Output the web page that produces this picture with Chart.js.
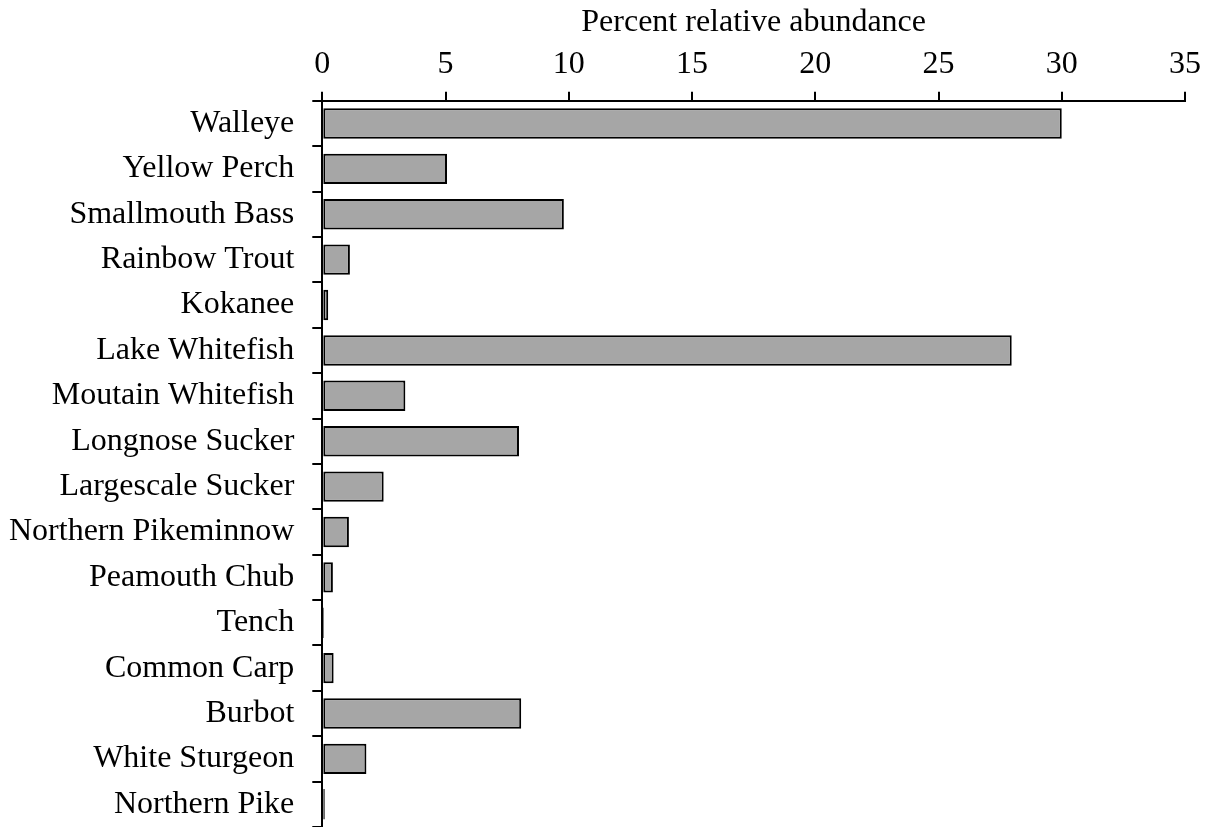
<!DOCTYPE html>
<html>
<head>
<meta charset="utf-8">
<script src="https://cdn.jsdelivr.net/npm/chart.js@4/dist/chart.umd.min.js"></script>
<style>
  html, body { margin: 0; padding: 0; background: #fff; }
  #wrap { width: 1212px; height: 827px; position: relative; }
</style>
</head>
<body>
<div id="wrap"><canvas id="chart"></canvas></div>
<script>
"use strict";

const species = [
  "Walleye", "Yellow Perch", "Smallmouth Bass", "Rainbow Trout", "Kokanee",
  "Lake Whitefish", "Moutain Whitefish", "Longnose Sucker", "Largescale Sucker",
  "Northern Pikeminnow", "Peamouth Chub", "Tench", "Common Carp", "Burbot",
  "White Sturgeon", "Northern Pike"
];
const abundance = [
  30.0, 5.06, 9.8, 1.12, 0.24,
  27.97, 3.37, 7.98, 2.49,
  1.08, 0.43, 0.07, 0.46, 8.07,
  1.79, 0.1
];
const xTicks = [0, 5, 10, 15, 20, 25, 30, 35];
const xTitle = "Percent relative abundance";

const font = { family: "'Liberation Serif', 'Times New Roman', serif", size: 32 };

// chart.js reserves the tick padding twice (both sides of the labels); take one back
const trimPadding = (axis) => {
  const pad = axis.options.ticks.padding;
  if (axis.isHorizontal()) {
    axis.height -= pad;
    axis.paddingLeft = 0;
    axis.paddingRight = 0;
  } else {
    axis.width -= pad;
    axis.paddingTop = 0;
    axis.paddingBottom = 0;
  }
};

new Chart(document.getElementById("chart"), {
  type: "bar",
  data: {
    labels: species,
    datasets: [{
      data: abundance,
      backgroundColor: "#a6a6a6",
      borderColor: "#000000",
      borderWidth: 2,
      borderSkipped: false,
      barPercentage: 0.67,
      categoryPercentage: 1
    }]
  },
  options: {
    indexAxis: "y",
    responsive: true,
    maintainAspectRatio: false,
    animation: false,
    layout: { padding: { top: 0, right: 27, bottom: 0, left: 9 } },
    plugins: { legend: { display: false }, tooltip: { enabled: false } },
    scales: {
      x: {
        position: "top",
        min: 0,
        max: 35,
        afterBuildTicks: (axis) => { axis.ticks = xTicks.map((v) => ({ value: v })); },
        afterFit: trimPadding,
        grid: { drawOnChartArea: false, tickLength: 9, color: "#000", lineWidth: 2 },
        border: { color: "#000", width: 2 },
        ticks: { color: "#000", font: font, padding: 8, maxRotation: 0 },
        title: { display: true, text: xTitle, color: "#000", font: font, padding: { top: 3, bottom: 4 } }
      },
      y: {
        afterFit: trimPadding,
        grid: { drawOnChartArea: false, tickLength: 10, color: "#000", lineWidth: 2, offset: true },
        border: { color: "#000", width: 2 },
        ticks: { color: "#000", font: font, padding: 18, autoSkip: false }
      }
    }
  }
});
</script>
</body>
</html>
